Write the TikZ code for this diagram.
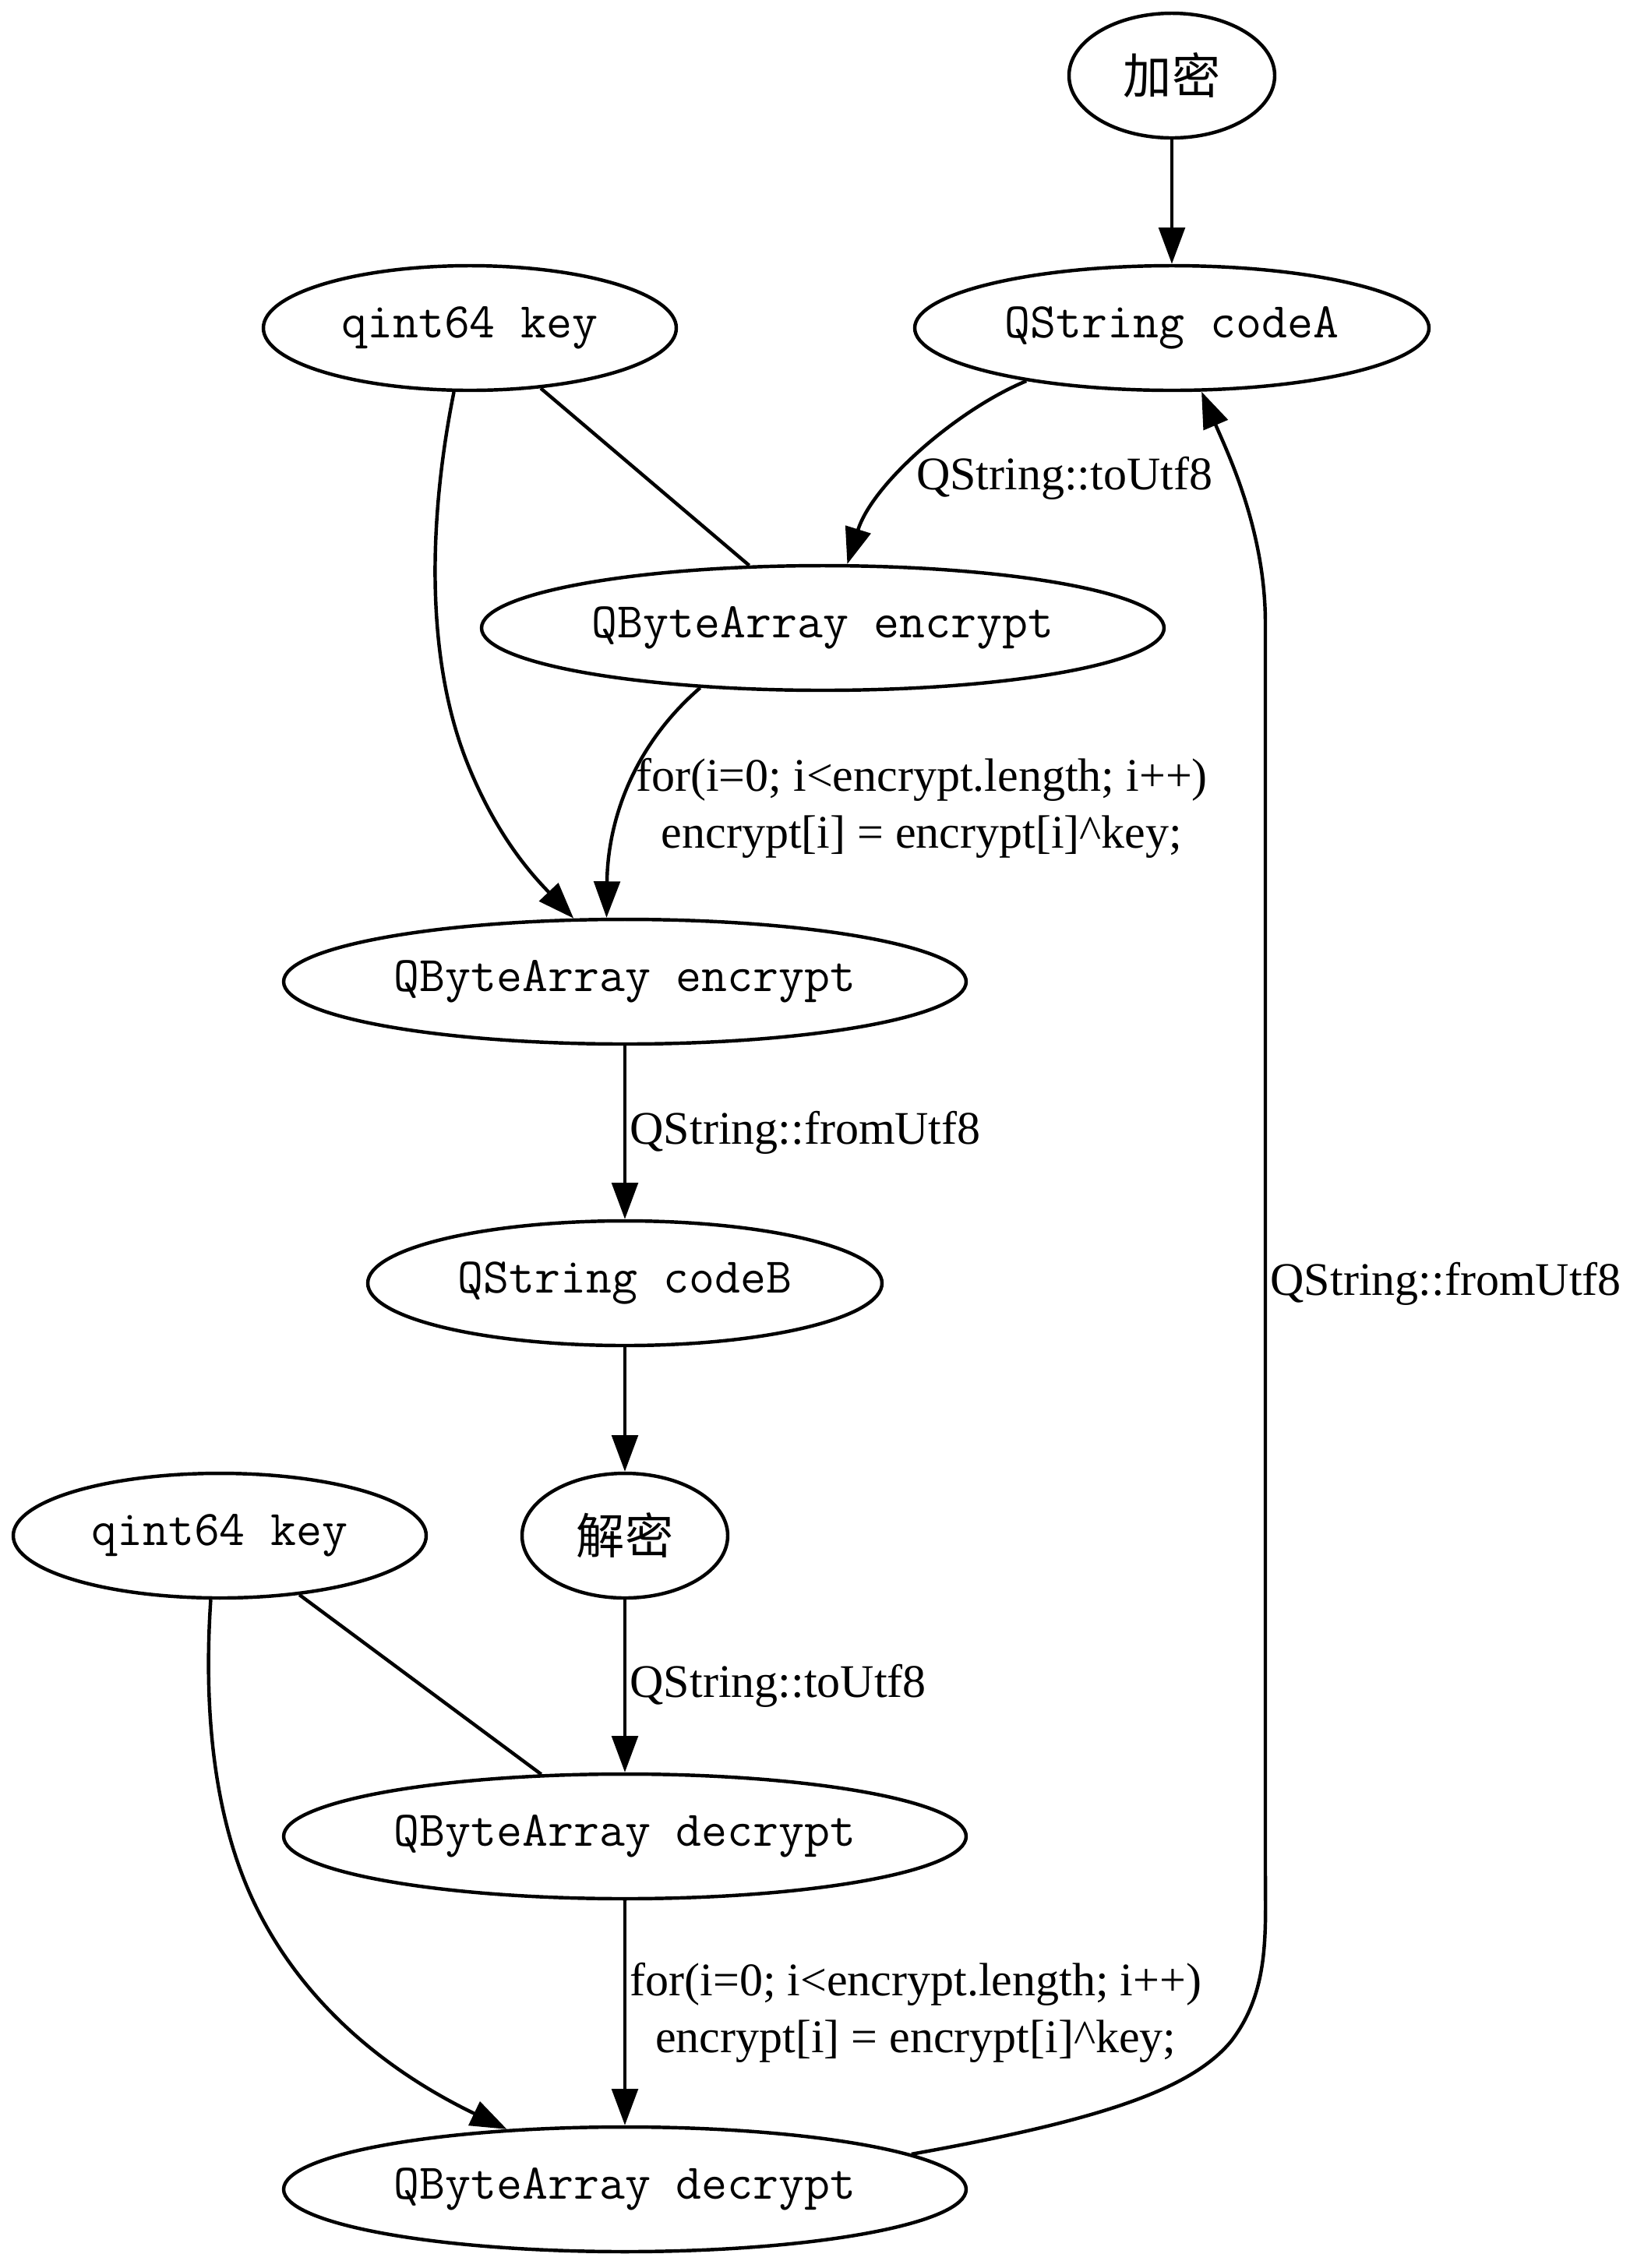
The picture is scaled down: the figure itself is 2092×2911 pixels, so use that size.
\documentclass[tikz,border=0pt]{standalone}
\usepackage{fontspec}
\setmainfont{Liberation Serif}
\newfontfamily\cjk{Noto Sans CJK SC}
\usetikzlibrary{shapes.geometric,arrows.meta}

\begin{document}
\begin{tikzpicture}[x=0.225pt, y=-0.225pt, line width=1pt,
		blob/.style={ellipse, draw, inner sep=0pt, minimum height=36pt, minimum width=#1,
			font=\ttfamily\fontsize{14.4}{17}\selectfont},
		lbl/.style={inner sep=1pt, align=center, font=\fontsize{13.5}{16.4}\selectfont},
		arr/.style={-{Triangle[length=10.5pt, width=7.5pt]}}]
	\useasboundingbox (0,0) rectangle (2092,2911);
	% upper half
	\node[blob=59.4pt, font=\cjk\fontsize{14}{17}\selectfont] (enc) at (1504,97) {加密};
	\node[blob=148.5pt] (codeA) at (1504,421) {QString codeA};
	\node[blob=119.25pt] (keyA) at (603,421) {qint64 key};
	\node[blob=197.1pt] (encA) at (1056,806) {QByteArray encrypt};
	\node[blob=197.1pt] (encB) at (802,1260) {QByteArray encrypt};
	\node[blob=148.5pt] (codeB) at (802,1647) {QString codeB};
	% lower half
	\node[blob=59.4pt, font=\cjk\fontsize{14}{17}\selectfont] (dec) at (802,1971) {解密};
	\node[blob=119.25pt] (keyB) at (282,1971) {qint64 key};
	\node[blob=197.1pt] (decA) at (802,2357) {QByteArray decrypt};
	\node[blob=197.1pt] (decB) at (802,2810) {QByteArray decrypt};

	\draw[arr] (enc) -- (codeA);
	\draw[arr] (codeA.200) .. controls (1230,525) and (1120,620) .. (encA.69)
		node[lbl] at (1366,614) {QString::toUtf8};
	\draw (keyA) -- (encA);
	\draw[arr] (keyA.256) .. controls (555,640) and (540,830) .. (600,980)
		.. controls (640,1080) and (690,1130) .. (encB.129);
	\draw[arr] (encA.206) .. controls (815,955) and (780,1050) .. (encB.106)
		node[lbl] at (1183,1037) {for(i=0; i<encrypt.length; i++)\\encrypt[i] = encrypt[i]\textasciicircum key;};
	\draw[arr] (encB) -- node[lbl, right] {QString::fromUtf8} (codeB);
	\draw[arr] (codeB) -- (dec);
	\draw[arr] (dec) -- node[lbl, right] {QString::toUtf8} (decA);
	\draw (keyB) -- (decA);
	\draw[arr] (keyB.262) .. controls (262,2180) and (270,2330) .. (330,2450)
		.. controls (400,2590) and (520,2670) .. (decB.153);
	\draw[arr] (decA) -- node[lbl, right] {for(i=0; i<encrypt.length; i++)\\encrypt[i] = encrypt[i]\textasciicircum key;} (decB);
	% back to codeA
	\draw[arr] (decB.7) .. controls (1420,2720) and (1530,2680) .. (1580,2620)
		.. controls (1630,2555) and (1624,2480) .. (1624,2400)
		-- node[lbl, right, pos=0.47] {QString::fromUtf8} (1624,800)
		.. controls (1624,680) and (1575,580) .. (codeA.295);
\end{tikzpicture}
\end{document}
